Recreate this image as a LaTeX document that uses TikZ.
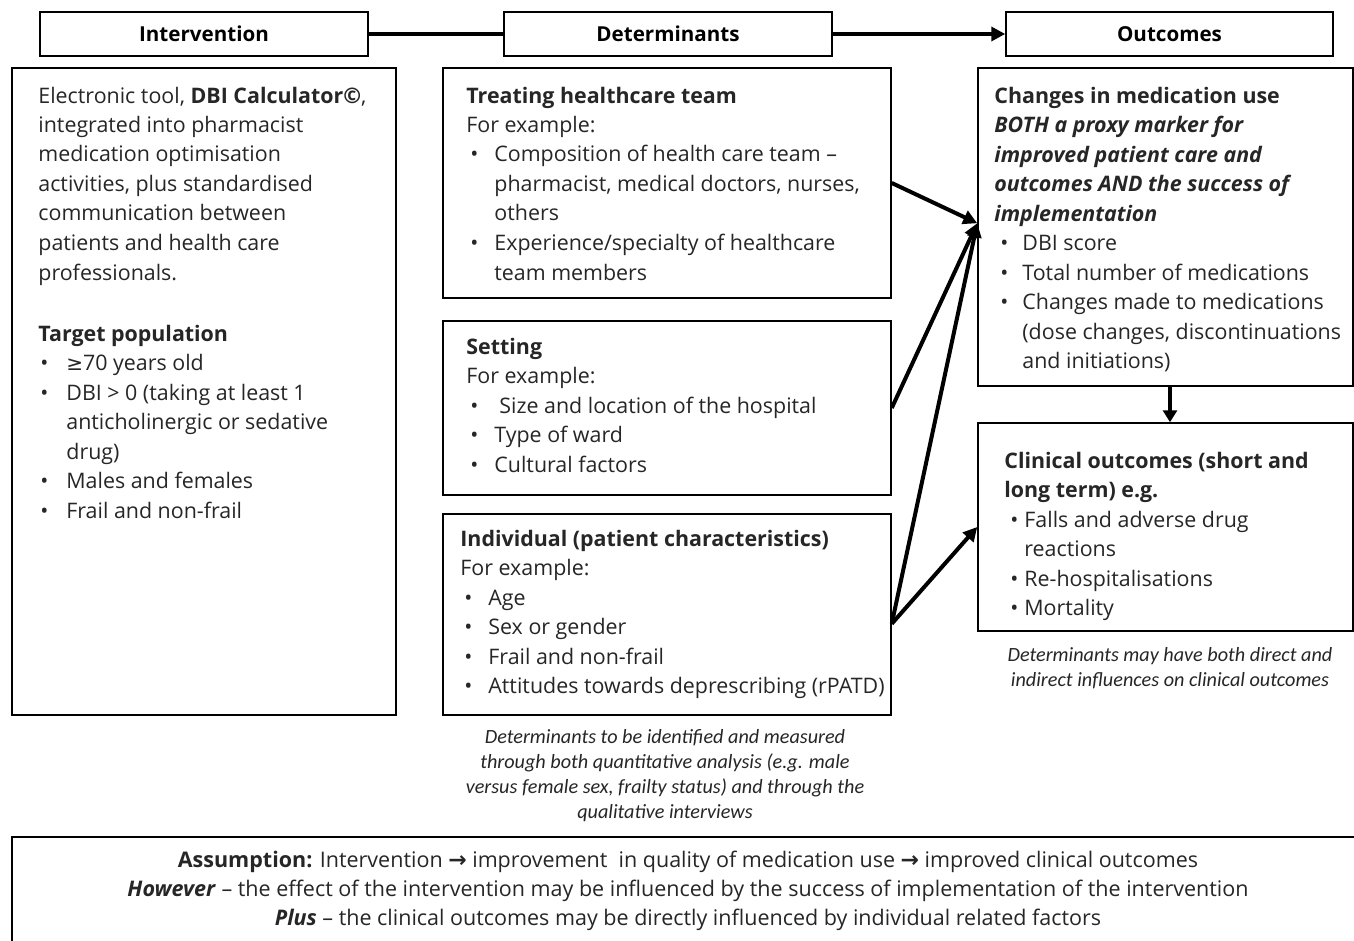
\documentclass[tikz,border=0pt]{standalone}
\usepackage{fontspec}
\setmainfont{Open Sans}
\newfontfamily\calfont{Carlito}
\newfontfamily\dvfont{DejaVu Sans}
\usetikzlibrary{arrows.meta,calc}
\newcommand{\mtxt}{\fontsize{10.7}{14.75}\selectfont}
\newcommand{\bu}[2]{\hspace*{#1}\makebox[#2][l]{•}}
\newcommand{\ct}[1]{\hspace*{#1}}
\newcommand{\rarr}{{\dvfont\bfseries\fontsize{11}{14.5}\selectfont →}}
\begin{document}
\begin{tikzpicture}[x=0.5pt,y=-0.5pt,
  box/.style={draw, line width=0.75pt, inner sep=0, minimum width=#1},
  hdr/.style={draw, line width=0.75pt, inner sep=0, minimum width=164pt, minimum height=22pt, font=\fontsize{10.3}{12}\selectfont\bfseries},
  txt/.style={anchor=base west, align=left, inner sep=0, font=\mtxt, text=black!85},
  captxt/.style={anchor=base, align=center, inner sep=0, font=\calfont\itshape\fontsize{10.1}{12.5}\selectfont, text=black!85},
  conn/.style={line width=2pt},
  arr/.style={line width=2pt, -{Triangle[length=7pt,width=7pt]}}]
\useasboundingbox (0,0) rectangle (1354,941);
\fill[white] (0,0) rectangle (1354,941);
% headers
\node[hdr] (hint) at (204,34) {Intervention};
\node[hdr] (hdet) at (668,34) {Determinants};
\node[hdr, minimum width=163.5pt] (hout) at (1169.5,34) {Outcomes};
\draw[conn] (hint.east) -- (hdet.west);
\draw[arr] (hdet.east) -- (hout.west);
% boxes
\node[box=192pt, minimum height=323.5pt] (int) at (204,391.5) {};
\node[box=224pt, minimum height=115pt] (treat) at (667,183) {};
\node[box=224pt, minimum height=87pt] (set) at (667,408) {};
\node[box=224pt, minimum height=100.5pt] (ind) at (667,614.5) {};
\node[box=187.5pt, minimum height=159pt] (chg) at (1165.5,227) {};
\node[box=187.5pt, minimum height=104pt] (cli) at (1165.5,527) {};
\node[box=674pt, minimum height=56.5pt] (bot) at (686,893.5) {};
% arrows
\coordinate (tgt) at ($(chg.north west)+(0,156)$);
\coordinate (src) at ($(ind.south east)+(0,-92)$);
\draw[arr] (treat.east) -- (tgt);
\draw[arr] (set.east) -- (tgt);
\draw[arr] (src) -- (tgt);
\draw[arr] (src) -- (cli.west);
\draw[line width=1.6pt, -{Triangle[length=6pt,width=7pt]}] ($(chg.south)+(4.5,0)$) -- ($(cli.north)+(4.5,0)$);
% intervention text (anchor = baseline of last line)
\node[txt] (t1) at (38,280) {Electronic tool, \textbf{DBI Calculator©},\\
integrated into pharmacist\\
medication optimisation\\
activities, plus standardised\\
communication between\\
patients and health care\\
professionals.};
\node[txt] (t2) at (38,518) {\textbf{Target population}\\
\bu{1pt}{13pt}{\dvfont\fontsize{10}{14.75}\selectfont ≥}70 years old\\
\bu{1pt}{13pt}DBI > 0 (taking at least 1\\
\ct{14pt}anticholinergic or sedative\\
\ct{14pt}drug)\\
\bu{1pt}{13pt}Males and females\\
\bu{1pt}{13pt}Frail and non-frail};
% determinants
\node[txt] (t3) at (466,280) {\textbf{Treating healthcare team}\\
For example:\\
\bu{2pt}{12pt}Composition of health care team –\\
\ct{14pt}pharmacist, medical doctors, nurses,\\
\ct{14pt}others\\
\bu{2pt}{12pt}Experience/specialty of healthcare\\
\ct{14pt}team members};
\node[txt] (t4) at (466,472) {\textbf{Setting}\\
For example:\\
\bu{2pt}{12pt}\hspace*{2.5pt}Size and location of the hospital\\
\bu{2pt}{12pt}Type of ward\\
\bu{2pt}{12pt}Cultural factors};
\node[txt] (t5) at (460,693.5) {\textbf{Individual (patient characteristics)}\\
For example:\\
\bu{2pt}{12pt}Age\\
\bu{2pt}{12pt}Sex or gender\\
\bu{2pt}{12pt}Frail and non-frail\\
\bu{2pt}{12pt}Attitudes towards deprescribing (rPATD)};
\node[captxt] (c1) at (665,818) {Determinants to be identified and measured\\
through both quantitative analysis (e.g. male\\
versus female sex, frailty status) and through the\\
qualitative interviews};
% outcomes
\node[txt] (t6) at (994,368.5) {\textbf{Changes in medication use}\\
\textbf{\textit{BOTH a proxy marker for}}\\
\textbf{\textit{improved patient care and}}\\
\textbf{\textit{outcomes AND the success of}}\\
\textbf{\textit{implementation}}\\
\bu{3pt}{11pt}DBI score\\
\bu{3pt}{11pt}Total number of medications\\
\bu{3pt}{11pt}Changes made to medications\\
\ct{14pt}(dose changes, discontinuations\\
\ct{14pt}and initiations)};
\node[txt] (t7) at (1004,615.5) {\textbf{Clinical outcomes (short and}\\
\textbf{long term) e.g.}\\
\bu{3pt}{7pt}Falls and adverse drug\\
\ct{10pt}reactions\\
\bu{3pt}{7pt}Re-hospitalisations\\
\bu{3pt}{7pt}Mortality};
\node[captxt] (c2) at (1170,686) {Determinants may have both direct and\\
indirect influences on clinical outcomes};
% bottom
\node[anchor=base, align=center, inner sep=0, font=\fontsize{10.75}{14.5}\selectfont, text=black!85] (b1) at (688,925) {\textbf{Assumption:} Intervention \rarr{} improvement\ \ in quality of medication use \rarr{} improved clinical outcomes\\
\textbf{\textit{However}} – the effect of the intervention may be influenced by the success of implementation of the intervention\\
\textbf{\textit{Plus}} – the clinical outcomes may be directly influenced by individual related factors};
\end{tikzpicture}
\end{document}
